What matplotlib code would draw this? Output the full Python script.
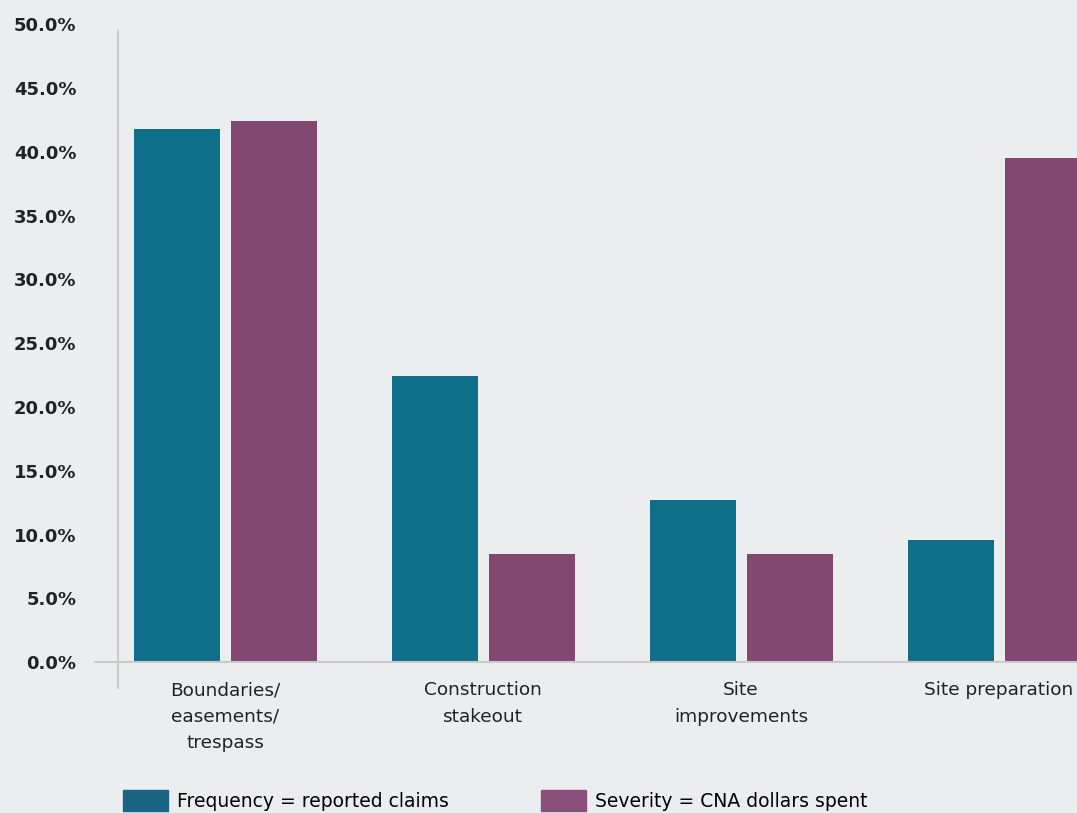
import matplotlib.pyplot as plt
from matplotlib.patches import Patch
import numpy as np

# Datos
categorias = ["Boundaries/\neasements/\ntrespass", "Construction\nstakeout",
              "Site\nimprovements", "Site preparation"]
frecuencia = [41.8, 22.4, 12.7, 9.6]
severidad = [42.4, 8.5, 8.5, 39.5]
series = ["Frequency = reported claims", "Severity = CNA dollars spent"]
yticks = [0, 5, 10, 15, 20, 25, 30, 35, 40, 45, 50]

fondo = "#ECEDEF"
c_frec = "#0F6E89"
c_sev = "#824870"

fig = plt.figure(figsize=(10.77, 8.13), dpi=100, facecolor=fondo)
W, H = 1077, 813
ax = fig.add_axes([95 / W, (H - 662) / H, (W - 95) / W, (662 - 24.5) / H])
ax.set_facecolor(fondo)

x = np.arange(len(categorias))
ancho = 86 / 258
ax.bar(x - 48.5 / 258, frecuencia, ancho, color=c_frec, label=series[0])
ax.bar(x + 49 / 258, severidad, ancho, color=c_sev, label=series[1])

ax.set_xlim((95 - 225) / 258, (1077 - 225) / 258)
ax.set_ylim(0, 50)

for s in ax.spines.values():
    s.set_visible(False)
ax.axhline(0, color="#C9CACC", lw=1.5, clip_on=False)
xs = (118 - 225) / 258
ax.plot([xs, xs], [-2.0, 49.5], color="#C9CACC", lw=1.5, clip_on=False)

ax.set_yticks(yticks)
ax.set_yticklabels([f"{v:.1f}%" for v in yticks], fontweight="bold",
                   fontsize=13, color="#222222")
ax.tick_params(axis="y", length=0, pad=13.5)
ax.set_xticks(x)
ax.set_xticklabels(categorias, fontsize=13.3, color="#222222", linespacing=1.6)
ax.tick_params(axis="x", length=0, pad=14)

handles = [Patch(color="#1A6484"), Patch(color="#8B4E7A")]
fig.legend(handles, series, loc="upper left", ncol=2, frameon=False,
           bbox_to_anchor=(114 / W, (H - 781) / H), borderpad=0,
           handlelength=2.4, handleheight=1.3, handletextpad=0.45,
           columnspacing=4.93, prop={"size": 13.5})

fig.savefig("out.png", dpi=100, facecolor=fondo)
